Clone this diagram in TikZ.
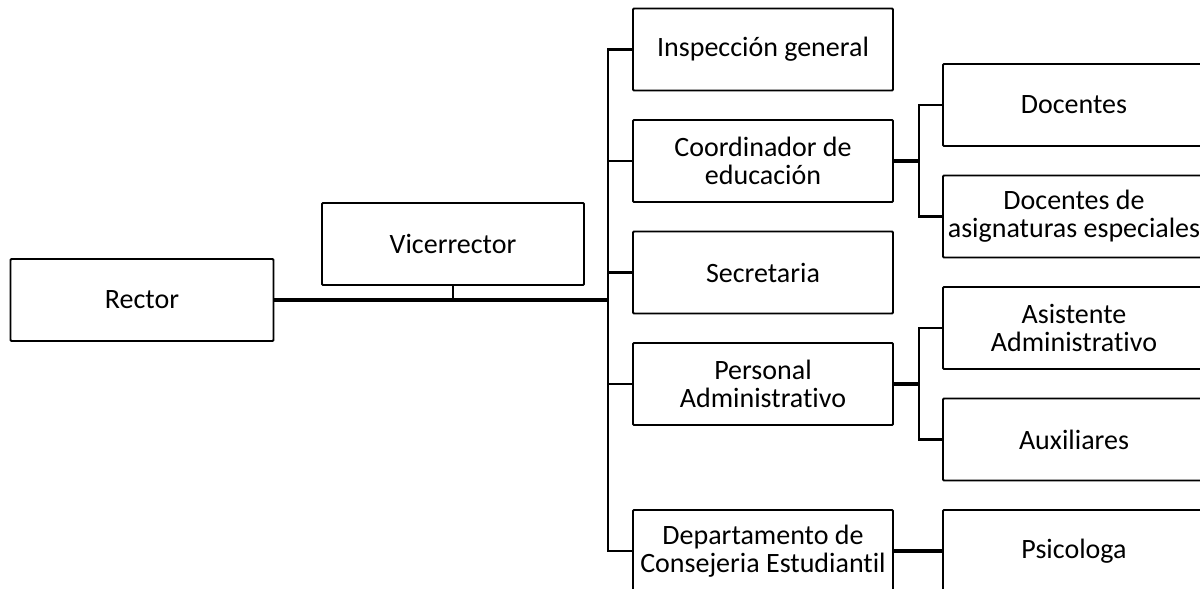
\documentclass[tikz,border=0pt]{standalone}
\usepackage{fontspec}
\setmainfont{Carlito}[Ligatures=NoCommon]

\begin{document}
\begin{tikzpicture}[x=1pt,y=-1pt,node distance=111.5pt,
                    unit/.style={draw,line width=1.8pt,rounded corners=1pt,
                                 minimum width=260pt,minimum height=82pt,inner sep=0pt,
                                 align=center,font=\fontsize{28}{28}\selectfont},
                    link/.style={line width=2.2pt},
                    heavy/.style={line width=3.6pt}]

  \useasboundingbox (0,0) rectangle (1200,589);

  \node[unit,minimum width=263pt] (R)  at (142,300)   {Rector};
  \node[unit,minimum width=262pt] (V)  at (453,244)   {Vicerrector};

  \node[unit]                     (I)  at (763,49.5)  {Inspección general};
  \node[unit]                     (C)  [below of=I]   {Coordinador de\\educación};
  \node[unit]                     (S)  [below of=C]   {Secretaria};
  \node[unit]                     (P)  [below of=S]   {Personal\\Administrativo};
  \node[unit]                     (D)  [below of=P,node distance=167pt]
                                                      {Departamento de\\Consejeria Estudiantil};

  \node[unit,minimum width=262pt] (Do) at (1074,105)  {Docentes};
  \node[unit,minimum width=262pt] (As) [below of=Do]  {Docentes de\\asignaturas especiales};
  \node[unit,minimum width=262pt] (Ad) [below of=As]  {Asistente\\Administrativo};
  \node[unit,minimum width=262pt] (Au) [below of=Ad]  {Auxiliares};
  \node[unit,minimum width=262pt] (Ps) [below of=Au]  {Psicologa};

  \coordinate (T) at (608,300);

  \draw[heavy] (R.east) -- (T);
  \draw[link]  (V.south) -- (V.south |- T);
  \draw[link]  (I.west) -| (T) |- (D.west);
  \foreach \n in {C,S,P}
    \draw[link] (\n.west) -- (\n.west -| T);

  \draw[heavy] (C.east) -- ++(25,0) coordinate (cj);
  \draw[link]  (Do.west) -| (cj) |- (As.west);
  \draw[heavy] (P.east) -- ++(25,0) coordinate (pj);
  \draw[link]  (Ad.west) -| (pj) |- (Au.west);
  \draw[heavy] (D.east) -- (Ps.west);
\end{tikzpicture}
\end{document}
